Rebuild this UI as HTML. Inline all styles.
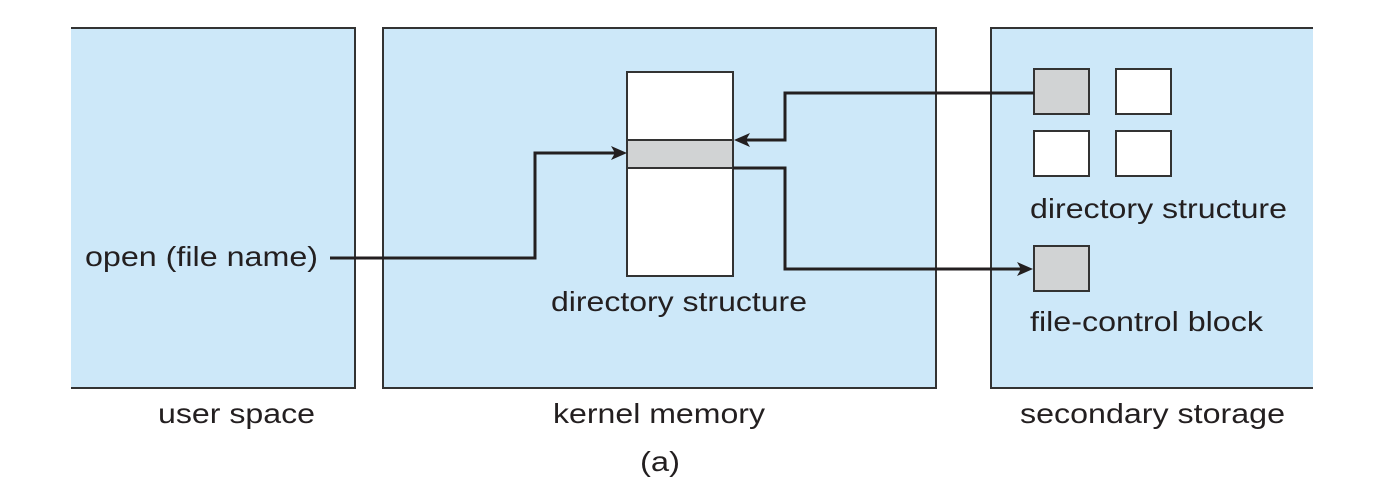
<!DOCTYPE html>
<html><head><style>html,body{margin:0;padding:0;background:#fff;}svg{display:block}</style></head>
<body>
<svg width="1390" height="498" viewBox="0 0 1390 498" xmlns="http://www.w3.org/2000/svg" font-family="Liberation Sans, Arial, sans-serif" fill="#231f20">
<g stroke="#333" stroke-width="2">
<path d="M71,28 H355 V388 H71" fill="#cde8f9"/>
<rect x="383" y="28" width="553" height="360" fill="#cde8f9"/>
<path d="M1313,28 H991 V388 H1313" fill="#cde8f9"/>
<rect x="627" y="72" width="106" height="204" fill="#fff"/>
<rect x="627" y="140" width="106" height="28" fill="#d1d3d4"/>
<rect x="1034" y="69" width="55" height="45" fill="#d1d3d4"/>
<rect x="1116" y="69" width="55" height="45" fill="#fff"/>
<rect x="1034" y="131" width="55" height="45" fill="#fff"/>
<rect x="1116" y="131" width="55" height="45" fill="#fff"/>
<rect x="1034" y="246" width="55" height="45" fill="#d1d3d4"/>
</g>
<g stroke="#231f20" stroke-width="3" fill="none">
<path d="M330,258 H535 V153 H615"/>
<path d="M1034,93 H785 V140 H745"/>
<path d="M733,168 H785 V269 H1022"/>
</g>
<g fill="#231f20">
<polygon points="627,153 611,146 615,153 611,160"/>
<polygon points="734,140 750,133 746,140 750,147"/>
<polygon points="1033,269 1017,262 1021,269 1017,276"/>
</g>
<g font-size="28">
<text x="85" y="266" textLength="233" lengthAdjust="spacingAndGlyphs">open (file name)</text>
<text x="551" y="311" textLength="256" lengthAdjust="spacingAndGlyphs">directory structure</text>
<text x="1030" y="218" textLength="257" lengthAdjust="spacingAndGlyphs">directory structure</text>
<text x="1030" y="331" textLength="233" lengthAdjust="spacingAndGlyphs">file-control block</text>
<text x="158" y="423" textLength="157" lengthAdjust="spacingAndGlyphs">user space</text>
<text x="553" y="423" textLength="212" lengthAdjust="spacingAndGlyphs">kernel memory</text>
<text x="1020" y="423" textLength="265" lengthAdjust="spacingAndGlyphs">secondary storage</text>
<text x="640" y="471" textLength="40" lengthAdjust="spacingAndGlyphs">(a)</text>
</g>
</svg>
</body></html>
